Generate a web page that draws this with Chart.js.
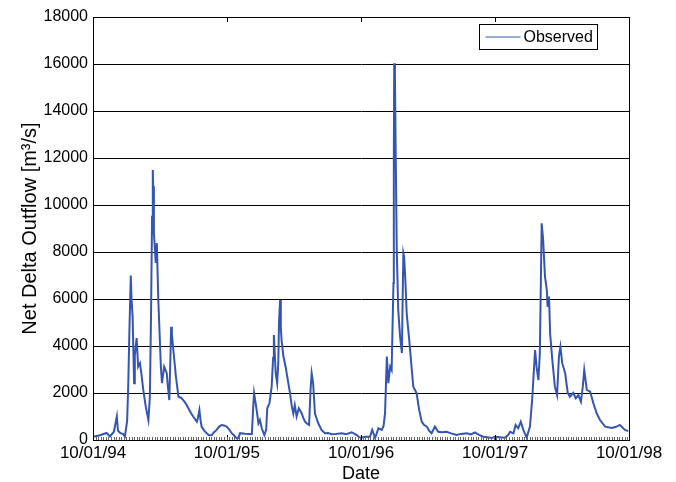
<!DOCTYPE html>
<html lang="en">
<head>
<meta charset="UTF-8">
<title>Net Delta Outflow</title>
<script src="https://cdn.jsdelivr.net/npm/chart.js"></script>
<style>
    html, body { margin: 0; padding: 0; background: #fff; }
    #wrap { width: 676px; height: 482px; }
</style>
</head>
<body>
<div id="wrap"><canvas id="flowChart" width="676" height="482"></canvas></div>
<script>
    // days since 10/01/94 and observed outflow (m3/s)
    const days = [1, 19, 37, 46, 57, 65, 68, 74, 82, 87, 93, 96, 99, 103, 105, 108, 112, 114, 119, 123, 128, 132, 137, 144, 151, 155, 158, 161, 163, 164, 166, 171, 174, 178, 185, 188, 194, 201, 204, 208, 211, 213, 215, 219, 226, 233, 240, 246, 253, 260, 267, 273, 283, 286, 290, 293, 296, 303, 310, 316, 324, 330, 337, 343, 351, 357, 364, 371, 378, 384, 392, 396, 401, 414, 433, 437, 439, 442, 446, 451, 455, 460, 467, 472, 475, 481, 487, 491, 493, 496, 498, 502, 505, 507, 510, 512, 514, 519, 525, 531, 537, 542, 546, 550, 555, 561, 569, 573, 578, 583, 589, 593, 596, 600, 605, 614, 623, 632, 641, 651, 662, 678, 690, 705, 719, 725, 732, 741, 755, 761, 769, 778, 787, 792, 796, 801, 805, 810, 814, 819, 820, 821, 823, 825, 828, 832, 837, 842, 844, 846, 848, 851, 855, 862, 869, 873, 882, 889, 896, 902, 910, 916, 923, 932, 941, 951, 964, 976, 991, 1003, 1019, 1030, 1041, 1052, 1064, 1074, 1087, 1096, 1109, 1123, 1131, 1137, 1146, 1152, 1159, 1166, 1173, 1178, 1182, 1191, 1197, 1205, 1209, 1214, 1218, 1221, 1223, 1227, 1232, 1237, 1239, 1243, 1246, 1252, 1259, 1265, 1270, 1274, 1279, 1287, 1294, 1300, 1309, 1316, 1323, 1330, 1335, 1339, 1346, 1355, 1364, 1373, 1382, 1396, 1414, 1426, 1436, 1450, 1459];
    const flow = [140, 200, 300, 150, 350, 1000, 400, 300, 250, 150, 800, 2270, 4500, 7000, 6000, 5250, 2420, 3600, 4340, 3120, 3270, 2800, 2130, 1400, 850, 1840, 5100, 9500, 11490, 10800, 8800, 7530, 8380, 5960, 3120, 2420, 3120, 2840, 2300, 1700, 3500, 4820, 4500, 3830, 2700, 1840, 1800, 1700, 1550, 1350, 1150, 1000, 780, 950, 1280, 850, 570, 400, 290, 200, 210, 330, 430, 560, 640, 620, 570, 450, 290, 200, 70, 80, 290, 270, 250, 1500, 2000, 1700, 1280, 710, 850, 500, 210, 430, 1350, 1560, 2270, 3500, 4470, 3500, 2840, 2420, 3270, 5000, 5960, 4800, 4250, 3550, 3120, 2550, 2000, 1420, 1130, 1490, 1000, 1350, 1130, 950, 780, 700, 640, 2130, 2840, 2420, 1130, 710, 430, 290, 300, 250, 260, 290, 250, 330, 210, 120, 100, 140, 140, 430, 85, 500, 430, 600, 1130, 3550, 2420, 3120, 2980, 6680, 12000, 16030, 15500, 12340, 8080, 5530, 4400, 3700, 6000, 7950, 7800, 6950, 5400, 4250, 2980, 2270, 2000, 1280, 780, 650, 570, 400, 290, 570, 350, 330, 350, 280, 210, 260, 290, 240, 320, 220, 140, 120, 85, 140, 120, 100, 200, 350, 280, 640, 500, 780, 430, 250, 100, 570, 1700, 3830, 3120, 2550, 3700, 7000, 9220, 8510, 6950, 6380, 5670, 6100, 4540, 3400, 2270, 1910, 3550, 3970, 3270, 2840, 2000, 1840, 2010, 1770, 1910, 1630, 2270, 2980, 2130, 2060, 1560, 1130, 850, 570, 510, 560, 640, 430, 380];

    const dateTicks = [0, 365, 731, 1096, 1461];
    const dateLabels = ['10/01/94', '10/01/95', '10/01/96', '10/01/97', '10/01/98'];
    const flowTicks = [0, 2000, 4000, 6000, 8000, 10000, 12000, 14000, 16000, 18000];

    const lineColor = '#3556b0';
    const fontFamily = "'Liberation Sans', Arial, Helvetica, sans-serif";

    // MATLAB-like frame: box, inward ticks, minor date ticks, legend inside axes
    const framePlugin = {
        id: 'frame',
        afterDraw(chart) {
            const { ctx, chartArea: a, scales: { x, y } } = chart;
            ctx.save();
            ctx.strokeStyle = '#000';
            ctx.lineWidth = 1;
            ctx.strokeRect(Math.round(a.left) + 0.5, Math.round(a.top) + 0.5, Math.round(a.right - a.left), Math.round(a.bottom - a.top));

            ctx.beginPath();
            dateTicks.forEach(d => {
                const px = Math.round(x.getPixelForValue(d)) + 0.5;
                ctx.moveTo(px, a.bottom); ctx.lineTo(px, a.bottom - 5);
                ctx.moveTo(px, a.top); ctx.lineTo(px, a.top + 5);
            });
            flowTicks.forEach(v => {
                const py = Math.round(y.getPixelForValue(v)) + 0.5;
                ctx.moveTo(a.right, py); ctx.lineTo(a.right - 5, py);
            });
            ctx.stroke();

            ctx.strokeStyle = '#666';
            ctx.beginPath();
            for (let d = 7; d < 1461; d += 7) {
                const px = Math.round(x.getPixelForValue(d)) + 0.5;
                ctx.moveTo(px, a.bottom); ctx.lineTo(px, a.bottom - 3);
            }
            ctx.stroke();

            // legend
            const lx = 479.5, ly = 24.5, lw = 118, lh = 25;
            ctx.fillStyle = '#fff';
            ctx.fillRect(lx, ly, lw, lh);
            ctx.strokeStyle = '#000';
            ctx.strokeRect(lx, ly, lw, lh);
            ctx.strokeStyle = lineColor;
            ctx.lineWidth = 1.2;
            ctx.beginPath();
            ctx.moveTo(lx + 6, ly + 12.5); ctx.lineTo(lx + 41, ly + 12.5);
            ctx.stroke();
            ctx.fillStyle = '#000';
            ctx.font = '16px ' + fontFamily;
            ctx.textBaseline = 'middle';
            ctx.textAlign = 'left';
            ctx.fillText(chart.data.datasets[0].label, lx + 44, ly + 13);
            ctx.restore();
        }
    };

    new Chart(document.getElementById('flowChart').getContext('2d'), {
        type: 'line',
        data: {
            datasets: [{
                label: 'Observed',
                data: days.map((d, i) => ({ x: d, y: flow[i] })),
                borderColor: lineColor,
                borderWidth: 2,
                pointRadius: 0,
                tension: 0,
                fill: false
            }]
        },
        options: {
            responsive: false,
            animation: false,
            devicePixelRatio: 1,
            layout: { padding: { top: 17, right: 47, left: 0, bottom: 0 } },
            plugins: { legend: { display: false }, tooltip: { enabled: false } },
            scales: {
                x: {
                    type: 'linear',
                    min: 0,
                    max: 1461,
                    afterBuildTicks: scale => { scale.ticks = dateTicks.map(v => ({ value: v })); },
                    afterFit: scale => { scale.height = 42; },
                    grid: { display: false, drawTicks: false },
                    border: { display: true, color: '#000' },
                    ticks: {
                        autoSkip: false, maxRotation: 0, padding: 3, color: '#000',
                        font: { family: fontFamily, size: 17 },
                        callback: (v, i) => dateLabels[i]
                    },
                    title: { display: true, text: 'Date', color: '#000', font: { family: fontFamily, size: 18 }, padding: { top: 0, bottom: -3 } }
                },
                y: {
                    min: 0,
                    max: 18000,
                    afterBuildTicks: scale => { scale.ticks = flowTicks.map(v => ({ value: v })); },
                    afterFit: scale => { scale.width = 93; },
                    grid: { color: '#000', lineWidth: 1, drawTicks: false },
                    border: { display: true, color: '#000' },
                    ticks: { padding: 5, color: '#000', font: { family: fontFamily, size: 16 }, callback: v => String(v) },
                    title: { display: true, text: 'Net Delta Outflow [m³/s]', color: '#000', font: { family: fontFamily, size: 20 }, padding: { top: 18, bottom: 0 } }
                }
            }
        },
        plugins: [framePlugin]
    });
</script>
</body>
</html>
